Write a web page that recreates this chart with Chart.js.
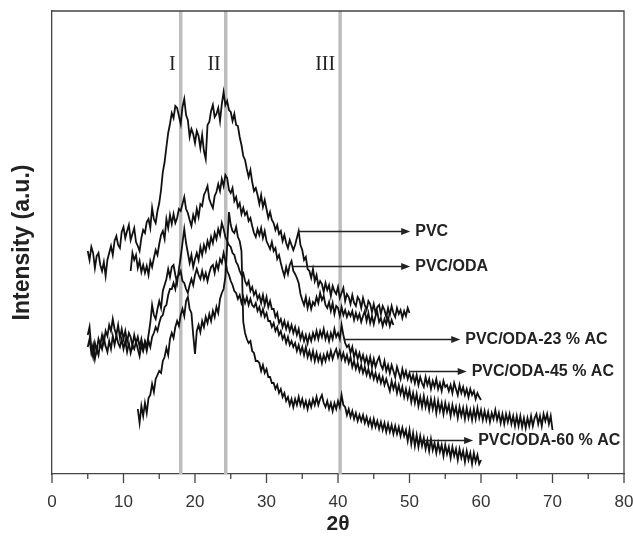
<!DOCTYPE html>
<html>
<head>
<meta charset="utf-8">
<script src="https://cdn.jsdelivr.net/npm/chart.js@4/dist/chart.umd.min.js"></script>
<style>
html,body{margin:0;padding:0;background:#fff;}
#c{display:block;}
</style>
</head>
<body>
<canvas id="c" width="633" height="539" style="width:633px;height:539px"></canvas>
<script>
// ---- data (2θ sampled every 0.25°, intensity in arbitrary units) ----
const step = 0.25;
const pvcStart = 5, pvcOdaStart = 11, ac23Start = 5, ac45Start = 5, ac60Start = 12;
const pvc = [
223,214,227,221, 206,218,221,209, 203,212,198,214, 221,228,219,233, 238,229,226,242,
247,236,243,249, 234,240,246,232, 228,223,236,244, 241,252,255,246, 266,255,251,263,
271,284,302,312, 327,341,350,361, 356,368,366,358, 350,367,375,359, 354,337,345,340,
331,343,338,326, 339,323,315,349, 352,363,369,357, 360,366,353,370, 382,369,373,364,
362,353,360,349, 348,337,329,318, 314,305,297,304, 292,283,286,279, 270,279,267,274,
265,256,262,254, 251,244,249,240, 243,233,239,231, 226,234,229,224, 229,236,243,229,
224,214,217,205, 203,196,205,193, 199,188,193,190, 182,191,184,189, 178,188,183,180,
187,176,181,186, 173,180,177,170, 179,171,168,177, 174,166,176,169, 164,173,170,162,
170,161,167,169, 160,168,164,157, 166,159,168,161, 157,166,160,164, 156,163,158,166,
161];
const pvcOda = [
203,221,214,219, 206,213,202,209, 201,208,199,213, 207,216,224,219, 230,239,243,235,
255,246,259,250, 260,251,256,265, 263,270,277,265, 261,254,248,259, 253,265,257,270,
268,279,283,288, 275,270,266,278, 282,290,283,295, 288,299,296,284, 281,286,273,277,
267,271,260,266, 259,262,253,256, 248,241,237,245, 239,246,236,243, 233,229,225,232,
223,226,215,219, 211,204,198,207, 200,209,213,203, 200,196,191,180, 174,169,177,166,
174,165,172,169, 177,171,181,174, 178,169,166,172, 163,171,160,168, 166,158,167,159,
164,157,162,158, 163,154,161,155, 160,152,158,163, 153,161,151,158, 150,158,162,152,
156,148,155,150, 157,148,154,149];
const ac23 = [
139,147,126,117, 131,123,135,129, 139,131,143,138, 149,143,155,145, 139,149,136,145,
135,143,132,141, 137,128,139,131, 137,127,135,125, 133,127,139,151, 169,159,155,165,
173,166,183,189, 195,205,197,207, 209,199,191,205, 217,231,245,231, 221,211,219,207,
215,221,214,227, 219,229,223,233, 227,237,231,241, 235,245,239,251, 245,237,233,229,
227,221,219,212, 209,203,199,201, 193,189,193,183, 187,179,183,175, 179,171,179,169,
177,167,173,165, 165,157,161,151, 155,147,153,145, 151,143,149,141, 147,139,145,135,
141,133,139,131, 139,133,141,135, 143,135,143,137, 145,135,141,133, 141,135,145,137,
141,135,149,139, 131,127,129,121, 127,117,123,115, 121,113,119,111, 117,109,117,107,
115,107,113,117, 109,105,113,103, 109,101,109,103, 97,107,101,95, 105,97,103,95,
101,93,99,91, 99,89,97,91, 87,97,89,95, 85,93,87,95, 85,91,83,93,
87,89,83,89, 81,91,85,79, 89,81,87,79, 85,77,85,79, 83,75,81,77,
74];
const ac45 = [
127,135,121,129, 115,125,119,131, 125,136,128,122, 133,125,138,129, 139,131,127,135,
125,133,122,131, 121,129,125,132, 125,118,129,123, 131,123,133,127, 137,141,147,143,
151,157,159,167, 169,179,185,185, 191,185,197,199, 203,193,191,185, 181,189,195,189,
199,205,199,195, 203,195,201,193, 201,207,209,201, 211,205,215,211, 221,213,203,199,
193,189,183,181, 175,179,171,177, 171,177,169,175, 169,167,171,163, 167,159,165,157,
161,153,153,147, 151,143,147,139, 143,135,139,131, 137,129,133,127, 131,123,129,121,
127,119,127,117, 123,115,123,113, 121,113,119,111, 119,113,121,115, 123,115,121,125,
117,123,115,121, 113,119,111,117, 107,113,105,111, 103,109,101,107, 99,105,97,103,
95,101,93,99, 91,97,89,95, 89,83,93,85, 91,81,89,80, 87,77,85,76,
84,72,81,71, 80,68,77,67, 78,67,75,64, 75,65,74,61, 73,63,71,60,
71,62,69,58, 69,60,67,56, 67,58,66,55, 66,56,64,54, 65,55,66,56,
64,54,63,54, 62,52,61,55, 64,54,61,51, 60,50,60,52, 60,50,58,48,
58,48,58,47, 56,46,56,48, 58,48,56,60, 50,58,48,60, 53,60,50,58,
44];
const ac60 = [
65,51,68,58, 71,61,76,79, 90,82,95,99, 103,101,113,117, 126,119,135,141,
136,147,153,148, 159,165,158,173, 177,165,161,139, 120,143,149,142, 153,147,157,151,
160,153,163,157, 167,161,175,181, 185,197,229,262, 249,243,241,247, 237,233,223,152,
141,135,131,133, 123,121,113,113, 111,103,109,101, 105,97,97,91, 91,85,89,81,
85,77,81,73, 77,69,75,67, 75,69,77,69, 75,67,73,65, 73,67,75,69,
77,69,75,79, 71,67,73,65, 71,63,71,65, 73,67,79,69, 67,59,65,57,
63,55,61,53, 59,53,59,51, 57,49,55,47, 55,47,53,45, 52,44,51,42,
50,42,49,40, 48,40,47,38, 46,38,44,33, 44,30,41,28, 39,27,38,28,
36,25,34,23, 35,24,31,21, 31,22,29,18, 29,20,27,16, 27,18,25,14,
25,16,23,12, 23,14,21,10, 21,12,19,10, 14];

// reference lines and their labels
const refLineX = [18.0, 24.3, 40.3];
const refLineLabels = ['I', 'II', 'III'];

// annotation arrows (label, arrow start 2θ, arrow end 2θ, intensity)
const annLabels = ['PVC', 'PVC/ODA', 'PVC/ODA-23 % AC', 'PVC/ODA-45 % AC', 'PVC/ODA-60 % AC'];
const annFromX = [34.4, 33.7, 40.8, 50.1, 51.5];
const annToX = [50.1, 50.1, 57.1, 58.0, 58.9];
const annY = [243, 208, 135, 103, 34];

const xTicks = [0, 10, 20, 30, 40, 50, 60, 70, 80];

function toPoints(start, arr) {
  return arr.map((v, i) => ({x: start + i * step, y: v}));
}

const series = [
  {label: 'PVC', start: pvcStart, data: pvc},
  {label: 'PVC/ODA', start: pvcOdaStart, data: pvcOda},
  {label: 'PVC/ODA-23 % AC', start: ac23Start, data: ac23},
  {label: 'PVC/ODA-45 % AC', start: ac45Start, data: ac45},
  {label: 'PVC/ODA-60 % AC', start: ac60Start, data: ac60}
];

const SANS = '"Liberation Sans", Arial, sans-serif';
const SERIF = '"Liberation Serif", "Times New Roman", serif';

const decor = {
  id: 'decor',
  beforeDatasetsDraw(chart) {
    const {ctx, chartArea: a, scales: {x}} = chart;
    ctx.save();
    ctx.strokeStyle = '#bdbdbd';
    ctx.lineWidth = 3.5;
    refLineX.forEach(v => {
      const px = x.getPixelForValue(v);
      ctx.beginPath(); ctx.moveTo(px, a.top); ctx.lineTo(px, a.bottom); ctx.stroke();
    });
    ctx.strokeStyle = '#444';
    ctx.lineWidth = 1.3;
    ctx.beginPath();
    ctx.moveTo(a.left, a.top); ctx.lineTo(a.right, a.top); ctx.lineTo(a.right, a.bottom);
    ctx.stroke();
    for (let v = 0; v <= 80; v += 5) {
      const px = x.getPixelForValue(v);
      const len = (v % 10 === 0) ? 9 : 5;
      ctx.beginPath(); ctx.moveTo(px, a.bottom); ctx.lineTo(px, a.bottom + len); ctx.stroke();
    }
    ctx.fillStyle = '#222';
    ctx.font = '20px ' + SERIF;
    ctx.textAlign = 'right';
    ctx.textBaseline = 'middle';
    refLineX.forEach((v, i) => {
      const px = x.getPixelForValue(v);
      ctx.fillText(refLineLabels[i], px - 5, a.top + 54);
    });
    ctx.restore();
  },
  afterDatasetsDraw(chart) {
    const {ctx, scales: {x, y}} = chart;
    ctx.save();
    ctx.strokeStyle = '#222';
    ctx.fillStyle = '#222';
    ctx.lineWidth = 1.3;
    ctx.font = 'bold 16px ' + SANS;
    ctx.textAlign = 'left';
    ctx.textBaseline = 'middle';
    annLabels.forEach((lab, i) => {
      const x0 = x.getPixelForValue(annFromX[i]);
      const x1 = x.getPixelForValue(annToX[i]);
      const py = Math.round(y.getPixelForValue(annY[i])) + 0.5;
      ctx.beginPath(); ctx.moveTo(x0, py); ctx.lineTo(x1 - 6, py); ctx.stroke();
      ctx.beginPath();
      ctx.moveTo(x1, py); ctx.lineTo(x1 - 9, py - 3.5); ctx.lineTo(x1 - 9, py + 3.5);
      ctx.closePath(); ctx.fill();
      ctx.fillText(lab, x1 + 5, py);
    });
    ctx.restore();
  }
};

new Chart(document.getElementById('c'), {
  type: 'line',
  data: {
    datasets: series.map(s => ({
      label: s.label,
      data: toPoints(s.start, s.data),
      borderColor: '#111',
      borderWidth: 1.8,
      pointRadius: 0,
      fill: false,
      tension: 0
    }))
  },
  options: {
    responsive: false,
    animation: false,
    devicePixelRatio: 1,
    layout: {padding: {top: 11, right: 9, left: 0, bottom: 0}},
    plugins: {legend: {display: false}, tooltip: {enabled: false}},
    scales: {
      x: {
        type: 'linear', min: 0, max: 80,
        afterBuildTicks(s) { s.ticks = xTicks.map(v => ({value: v})); },
        ticks: {font: {size: 17, family: SANS}, color: '#333', padding: 18, maxRotation: 0},
        grid: {display: false, drawTicks: false},
        border: {display: true, color: '#444', width: 1.3},
        title: {display: true, text: '2θ', font: {size: 21, weight: 'bold', family: SANS}, color: '#222', padding: {top: 0, bottom: 2}},
        afterFit(s) { s.height = 65; s.paddingLeft = 0; s.paddingRight = 0; }
      },
      y: {
        type: 'linear', min: 0, max: 463,
        ticks: {display: false},
        grid: {display: false, drawTicks: false},
        border: {display: true, color: '#444', width: 1.3},
        title: {display: true, text: 'Intensity (a.u.)', font: {size: 23, weight: 'bold', family: SANS}, color: '#222', padding: {top: 9, bottom: 0}},
        afterFit(s) { s.width = 52; s.paddingTop = 0; s.paddingBottom = 0; }
      }
    }
  },
  plugins: [decor]
});
</script>
</body>
</html>
